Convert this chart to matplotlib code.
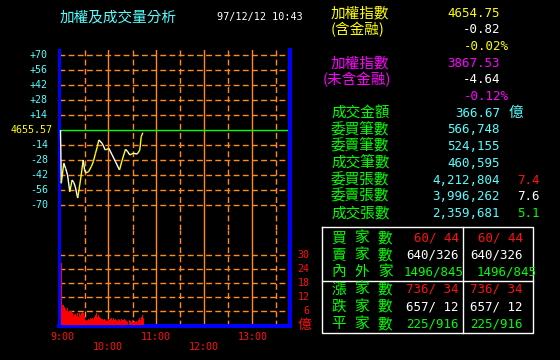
import numpy as np
import matplotlib
matplotlib.use("Agg")
from matplotlib import pyplot as plt
from matplotlib.collections import LineCollection

# index change vs previous close (4655.57), minutes after 9:00
t_idx = [0, 1.0, 4.1, 6.5, 8.8, 11.6, 14.5, 16.6, 18.5, 21.5, 25.0, 28.4, 30.0,
         31.5, 35.0, 38.4, 41.0, 43.75, 46.0, 47.9, 52.0, 56.0, 60.4, 64.6,
         68.75, 73.75, 77.1, 81.25, 84.1, 86.6, 90.9, 95.9, 99.1, 100.9, 102.9]
v_idx = [0, -49.7, -31.0, -36.0, -42.0, -57.6, -46.7, -49.0, -53.0, -63.5,
         -46.7, -28.0, -37.0, -40.0, -39.0, -34.3, -29.6, -21.7, -15.6, -9.3,
         -12.4, -18.7, -17.1, -23.3, -29.6, -37.3, -28.0, -18.0, -20.3, -23.3,
         -21.7, -22.4, -18.7, -6.3, -2.5]

# volume per bar (億), one bar every 1.25 min from 9:00
vol = [26.4, 8.6, 8.6, 7.6, 6.7, 6.1, 7.1, 5.7, 5.9, 5.9, 5.9, 5.0, 4.0, 4.6,
       4.7, 4.0, 5.0, 3.6, 5.0, 4.3, 5.3, 5.7, 5.0, 3.9, 2.1, 1.9, 2.1, 2.4,
       2.1, 2.9, 2.4, 2.9, 2.4, 3.6, 4.3, 5.0, 3.6, 4.3, 3.6, 2.9, 2.4, 2.4,
       2.1, 2.4, 2.1, 1.9, 1.9, 2.4, 2.1, 2.1, 2.4, 2.9, 2.1, 2.9, 2.1, 2.4,
       2.1, 1.9, 2.4, 2.1, 1.9, 2.4, 2.1, 2.1, 2.4, 2.1, 1.9, 1.4, 2.1, 1.9,
       1.4, 2.1, 1.4, 1.9, 1.4, 1.9, 1.4, 2.1, 2.9, 2.1, 3.6, 4.3, 2.9]

price_ticks = [70, 56, 42, 28, 14, -14, -28, -42, -56, -70]
vol_ticks = [30, 24, 18, 12, 6]
time_labels = ["9:00", "10:00", "11:00", "12:00", "13:00"]

info_labels = ["成交金額", "委買筆數", "委賣筆數", "成交筆數", "委買張數", "委賣張數", "成交張數"]
info_values = ["366.67", "566,748", "524,155", "460,595", "4,212,804", "3,996,262", "2,359,681"]
ratio_values = ["7.4", "7.6", "5.1"]

tbl_labels = ["買家數", "賣家數", "內外家", "漲家數", "跌家數", "平家數"]
tbl_col1 = ["60/ 44", "640/326", "1496/845", "736/ 34", "657/ 12", "225/916"]
tbl_col2 = ["60/ 44", "640/326", "1496/845", "736/ 34", "657/ 12", "225/916"]

BLUE = "#0000ff"
ORANGE = "#ff8c1a"
GREEN = "#00ff00"
CYAN = "#55ffff"
YELLOW = "#ffff00"
MAGENTA = "#ff00ff"
RED = "#ff1010"
CJK = ["Noto Sans CJK TC", "DejaVu Sans"]
MONO = "DejaVu Sans Mono"

W, H = 560, 360
fig = plt.figure(figsize=(5.6, 3.6), dpi=100, facecolor="black")


def px(x, y, s, color, size=9, family=MONO, ha="left", va="center"):
    fig.text(x / W, 1 - y / H, s, color=color, fontsize=size, family=family, ha=ha, va=va)


def box(x0, y0, x1, y1):
    # axes from pixel box (y measured from the top)
    return fig.add_axes([x0 / W, 1 - y1 / H, (x1 - x0) / W, (y1 - y0) / H])


ax_p = box(58.5, 50, 290, 230)
ax_v = box(58.5, 230, 290, 326)

xlim = (-2.5, (290 - 60.5) / 0.8)
for ax in (ax_p, ax_v):
    ax.set_facecolor("black")
    ax.set_xlim(*xlim)
    ax.set_xticks([])
    ax.set_yticks([])
    for s in ax.spines.values():
        s.set_visible(False)
        s.set_color(BLUE)
    ax.spines["left"].set_visible(True)
    ax.spines["left"].set_linewidth(2.16)
    ax.spines["right"].set_visible(True)
    ax.spines["right"].set_linewidth(2.9)
    for m in range(30, 285, 30):
        if m % 60 == 0:
            ax.axvline(m, color=ORANGE, lw=1.0)
        else:
            ax.axvline(m, color=ORANGE, lw=1.0, dashes=(4.2, 2.4))
ax_v.spines["bottom"].set_visible(True)
ax_v.spines["bottom"].set_linewidth(2.9)

ax_p.set_ylim(-93.33, 74.67)
ax_v.set_ylim(-0.43, 40.71)

for v in price_ticks:
    ax_p.axhline(v, color=ORANGE, lw=1.0, dashes=(4.2, 2.4))
ax_p.axhline(0, color=GREEN, lw=1.0)
for v in vol_ticks:
    ax_v.axhline(v, color=ORANGE, lw=1.0, dashes=(4.2, 2.4))

# index line: yellow when rising, white when falling
pts = np.column_stack([t_idx, v_idx])
segs = np.stack([pts[:-1], pts[1:]], axis=1)
cols = [YELLOW if b >= a else "white" for a, b in zip(v_idx[:-1], v_idx[1:])]
ax_p.add_collection(LineCollection(segs, colors=cols, linewidths=1.0, zorder=3))

t_vol = np.arange(len(vol)) * 1.25
ax_v.bar(t_vol, vol, width=1.25, align="edge", color="#ff0000", linewidth=0, zorder=3)

# left axis labels
for v in price_ticks:
    y = 130 - v * 15 / 14
    px(48, y, "%+d" % v, CYAN, size=7.2, ha="right")
px(52.5, 130, "4655.57", YELLOW, size=7.2, ha="right")

# volume labels on the right
for v in vol_ticks:
    y = 325 - v * 14 / 6
    px(309.5, y, str(v), RED, size=7.2, ha="right")
px(304, 325, "億", RED, size=10, family=CJK, ha="center")

# time labels
tx = [62.5, 107.5, 155.5, 204, 252.5]
ty = [337, 347, 337, 347, 337]
for x, y, s in zip(tx, ty, time_labels):
    px(x, y, s, RED, size=7.2, ha="center")

# title
px(60, 17, "加權及成交量分析", CYAN, size=10.5, family=CJK)
px(217, 17, "97/12/12 10:43", "white", size=7.3)

# right panel
row = lambda i: 13.3 + 16.67 * i
px(331, row(0), "加權指數", YELLOW, size=10.5, family=CJK)
px(500, row(0), "4654.75", YELLOW, ha="right")
px(331, row(1), "(含金融)", YELLOW, size=10.5, family=CJK)
px(500, row(1), "-0.82", "white", ha="right")
px(509, row(2), "-0.02%", YELLOW, ha="right")
px(331, row(3), "加權指數", MAGENTA, size=10.5, family=CJK)
px(500, row(3), "3867.53", MAGENTA, ha="right")
px(323, row(4), "(未含金融)", MAGENTA, size=10.5, family=CJK)
px(500, row(4), "-4.64", "white", ha="right")
px(509, row(5), "-0.12%", MAGENTA, ha="right")

for i, (lab, val) in enumerate(zip(info_labels, info_values)):
    px(331, row(6 + i), lab, GREEN, size=10.5, family=CJK)
    px(500, row(6 + i), val, CYAN, ha="right")
px(516, row(6), "億", CYAN, size=10.5, family=CJK, ha="center")
for i, (val, c) in enumerate(zip(ratio_values, [RED, "white", GREEN])):
    px(540, row(10 + i), val, c, ha="right")

# breadth table
tb = fig.add_axes([0, 0, 1, 1], facecolor="none")
tb.set_xlim(0, W)
tb.set_ylim(H, 0)
tb.axis("off")
tb.plot([321.7, 533.3, 533.3, 321.7, 321.7], [227.3, 227.3, 333.3, 333.3, 227.3], color="white", lw=1.0)
tb.plot([463.3, 463.3], [227.3, 333.3], color="white", lw=1.0)
tb.plot([321.7, 533.3], [280.7, 280.7], color="white", lw=1.0)

ty_rows = [238.3, 255, 272.3, 289.3, 306.7, 324]
tcols = [RED, "white", GREEN, RED, "white", GREEN]
for y, lab, a, b, c in zip(ty_rows, tbl_labels, tbl_col1, tbl_col2, tcols):
    for k, ch in enumerate(lab):
        px(338.5 + 23.3 * k, y, ch, GREEN, size=10.5, family=CJK, ha="center")
    if len(a) > 7:
        px(404, y, a, c)
        px(477, y, b, c)
    else:
        px(459, y, a, c, ha="right")
        px(523, y, b, c, ha="right")

fig.savefig("out.png", dpi=100, facecolor="black")
